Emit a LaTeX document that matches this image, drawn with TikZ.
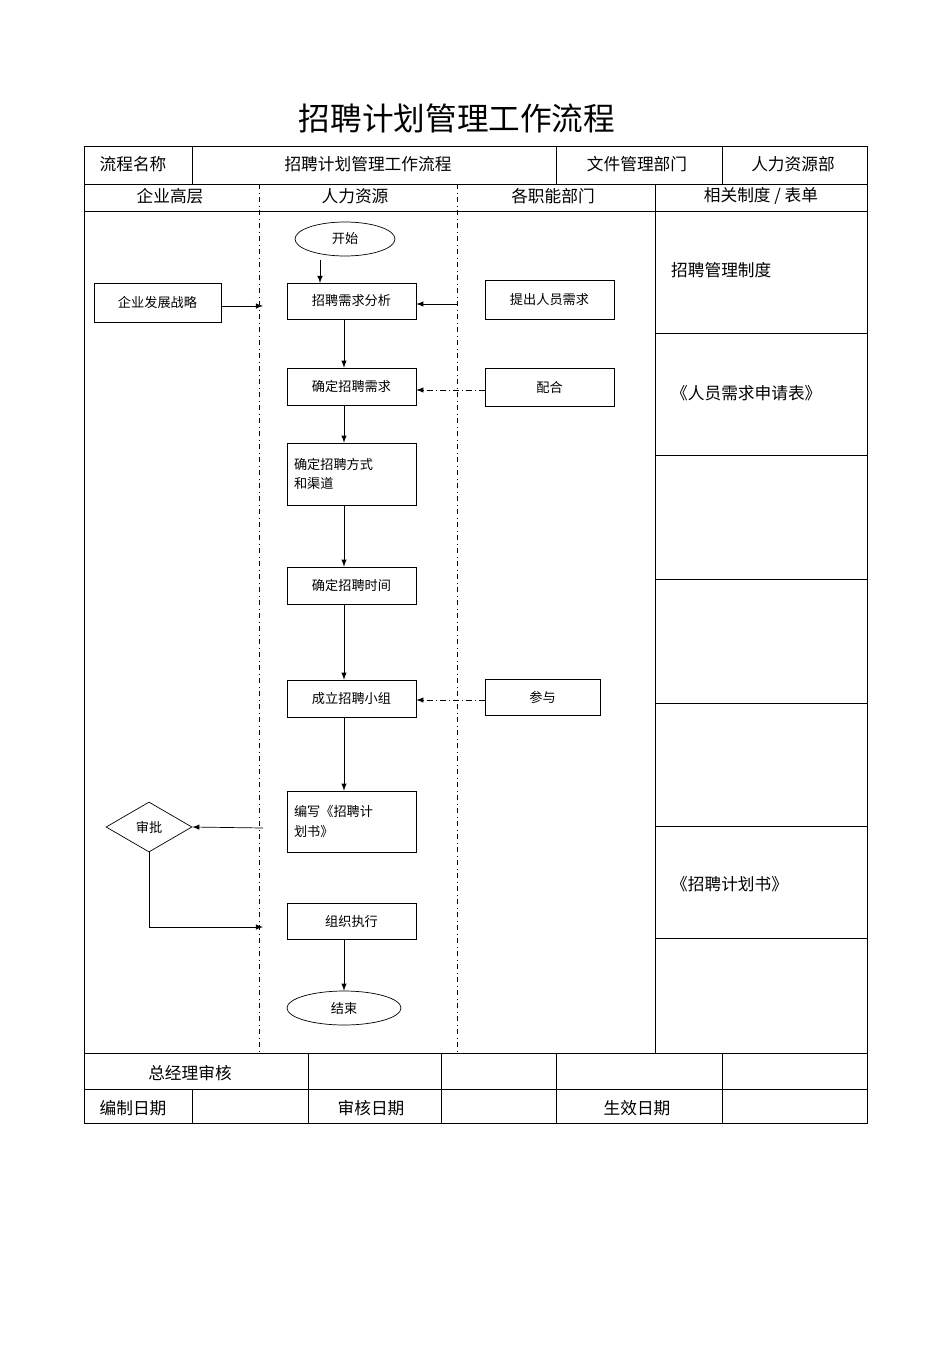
\documentclass[tikz,border=0pt]{standalone}
\usepackage{fontspec}
\setmainfont{Noto Sans CJK SC}
\usetikzlibrary{shapes.geometric}
\begin{document}
\begin{tikzpicture}[x=0.02cm,y=-0.02cm]
% Styles
\tikzstyle{cadre}=[thin]
\tikzstyle{couloir}=[thin,dash dot]
\tikzstyle{fleche}=[->,>=latex,thin]
\tikzstyle{pointille}=[->,>=latex,thin,dash dot]
\tikzstyle{boite}=[draw,thin,rectangle,minimum width=2.58cm,font=\fontsize{7.5}{11}\selectfont]
\tikzstyle{entete}=[font=\fontsize{9.5}{11}\selectfont]
\useasboundingbox[fill=white] (0,0) rectangle (950,1345);
% Titre
\node[font=\fontsize{18}{20}\selectfont] (titre) at (457,118) {招聘计划管理工作流程};
% Encadrement
\draw[cadre] (84,146) rectangle (867,1123);
\draw[cadre] (84,184) -- (867,184);
\draw[cadre] (84,211) -- (867,211);
\draw[cadre] (84,1053) -- (867,1053);
\draw[cadre] (84,1089) -- (867,1089);
\foreach \x in {192,556,722} \draw[cadre] (\x,146) -- (\x,184);
\draw[cadre] (655,184) -- (655,1053);
\foreach \x in {259,457} \draw[couloir] (\x,184) -- (\x,1053);
\foreach \y in {333,455,579,703,826,938} \draw[cadre] (655,\y) -- (867,\y);
\foreach \x in {308,441,556,722} \draw[cadre] (\x,1053) -- (\x,1123);
\draw[cadre] (192,1089) -- (192,1123);
% Entetes
\node[entete] (h1) at (133,164) {流程名称};
\node[entete] (h2) at (368,164) {招聘计划管理工作流程};
\node[entete] (h3) at (637,164) {文件管理部门};
\node[entete] (h4) at (793,164) {人力资源部};
\node[entete] (c1) at (170,196) {企业高层};
\node[entete] (c2) at (355,196) {人力资源};
\node[entete] (c3) at (553,196) {各职能部门};
\node[entete] (c4) at (761,196) {相关制度 / 表单};
% Formulaires
\node[entete,anchor=west] (f1) at (665,270) {招聘管理制度};
\node[entete,anchor=west] (f2) at (665,393) {《人员需求申请表》};
\node[entete,anchor=west] (f3) at (665,884) {《招聘计划书》};
% Pied
\node[entete] (p1) at (190,1073) {总经理审核};
\node[entete] (p2) at (133,1108) {编制日期};
\node[entete] (p3) at (371,1108) {审核日期};
\node[entete] (p4) at (637,1108) {生效日期};
% Noeuds
\node[draw,thin,ellipse,minimum width=2cm,minimum height=0.68cm,font=\fontsize{7.5}{9}\selectfont] (debut) at (345,239) {开始};
\node[boite,minimum width=2.54cm,minimum height=0.78cm] (strategie) at (157.5,302.5) {企业发展战略};
\node[boite,minimum height=0.72cm] (analyse) at (351.5,301) {招聘需求分析};
\node[boite,minimum height=0.78cm] (proposer) at (549.5,299.5) {提出人员需求};
\node[boite,minimum height=0.74cm] (besoin) at (351.5,386.5) {确定招聘需求};
\node[boite,minimum height=0.76cm] (cooperer) at (549.5,387) {配合};
\node[boite,minimum height=1.24cm,align=left,text width=2.3cm] (mode) at (351.5,474) {确定招聘方式\\和渠道};
\node[boite,minimum height=0.74cm] (temps) at (351.5,585.5) {确定招聘时间};
\node[boite,minimum height=0.74cm] (groupe) at (351.5,698.5) {成立招聘小组};
\node[boite,minimum width=2.3cm,minimum height=0.72cm] (participer) at (542.5,697) {参与};
\node[boite,minimum height=1.22cm,align=left,text width=2.3cm] (rediger) at (351.5,821.5) {编写《招聘计\\划书》};
\node[draw,thin,diamond,aspect=1.72,inner sep=1pt,minimum width=1.72cm,minimum height=1cm,font=\fontsize{7.5}{9}\selectfont] (approuver) at (149,827) {审批};
\node[boite,minimum height=0.72cm] (executer) at (351.5,921) {组织执行};
\node[draw,thin,ellipse,minimum width=2.28cm,minimum height=0.68cm,font=\fontsize{7.5}{9}\selectfont] (fin) at (344,1008) {结束};
% Points libres
\coordinate (d1) at (320,260);
\coordinate (a1) at (320,283);
\coordinate (a2) at (263,306);
\coordinate (a3) at (457,304);
\coordinate (a4) at (263,828);
\coordinate (a5) at (149,927);
\coordinate (a6) at (263,927);
% Fleches
\draw[fleche] (d1) -- (a1);
\draw[fleche] (strategie.east |- a2) -- (a2);
\draw[fleche] (a3) -- (analyse.east |- a3);
\draw[fleche] (analyse.south -| 344,0) -- (besoin.north -| 344,0);
\draw[fleche] (besoin.south -| 344,0) -- (mode.north -| 344,0);
\draw[fleche] (mode.south -| 344,0) -- (temps.north -| 344,0);
\draw[fleche] (temps.south -| 344,0) -- (groupe.north -| 344,0);
\draw[fleche] (groupe.south -| 344,0) -- (rediger.north -| 344,0);
\draw[fleche] (executer.south -| 344,0) -- (fin.north);
\draw[pointille] (cooperer.west |- 0,390) -- (besoin.east |- 0,390);
\draw[pointille] (participer.west |- 0,700) -- (groupe.east |- 0,700);
\draw[fleche] (a4) -- (approuver.east);
\draw[fleche] (approuver.south) -- (a5) -- (a6);
\end{tikzpicture}
\end{document}
